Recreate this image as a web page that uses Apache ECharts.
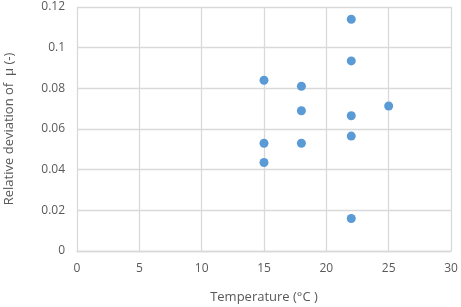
<!DOCTYPE html>
<html>
<head>
<meta charset="utf-8">
<script src="https://cdn.jsdelivr.net/npm/echarts@6/dist/echarts.min.js"></script>
<style>
  html, body { margin: 0; padding: 0; background: #fff; }
  #chart { width: 461px; height: 307px; }
</style>
</head>
<body>
<div id="chart"></div>
<script>
// temperature (°C) and relative deviation of mu
const temperature = [15, 15, 15, 18, 18, 18, 22, 22, 22, 22, 22, 25];
const deviation = [0.084, 0.053, 0.0435, 0.081, 0.069, 0.053, 0.114, 0.0935, 0.0665, 0.0565, 0.016, 0.0713];

const chart = echarts.init(document.getElementById('chart'));

const points = temperature.map((t, i) => [t, deviation[i]]);

const gridLine = { show: true, lineStyle: { color: '#d9d9d9', width: 1.3 } };
const labelStyle = { color: '#595959', fontSize: 12, fontFamily: 'Open Sans' };

chart.setOption({
  animation: false,
  grid: { left: 77, right: 10, top: 7, bottom: 56, outerBoundsMode: 'none' },
  xAxis: {
    type: 'value',
    min: 0, max: 30, interval: 5,
    name: 'Temperature (°C )',
    nameLocation: 'middle',
    nameGap: 40,
    nameTextStyle: { color: '#595959', fontSize: 13, fontFamily: 'Open Sans' },
    axisLine: { show: true, lineStyle: { color: '#d9d9d9', width: 1.3 } },
    axisTick: { show: false },
    axisLabel: Object.assign({ margin: 12 }, labelStyle),
    splitLine: gridLine
  },
  yAxis: {
    type: 'value',
    min: 0, max: 0.12, interval: 0.02,
    name: 'Relative deviation of  μ (-)',
    nameLocation: 'middle',
    nameGap: 61,
    nameTextStyle: { color: '#595959', fontSize: 13, fontFamily: 'Open Sans' },
    axisLine: { show: false },
    axisTick: { show: false },
    axisLabel: Object.assign({ margin: 12, formatter: v => String(+v.toFixed(2)) }, labelStyle),
    splitLine: gridLine
  },
  series: [{
    type: 'scatter',
    data: points,
    symbolSize: 9,
    itemStyle: { color: '#5b9bd5', opacity: 1 }
  }]
});
</script>
</body>
</html>
